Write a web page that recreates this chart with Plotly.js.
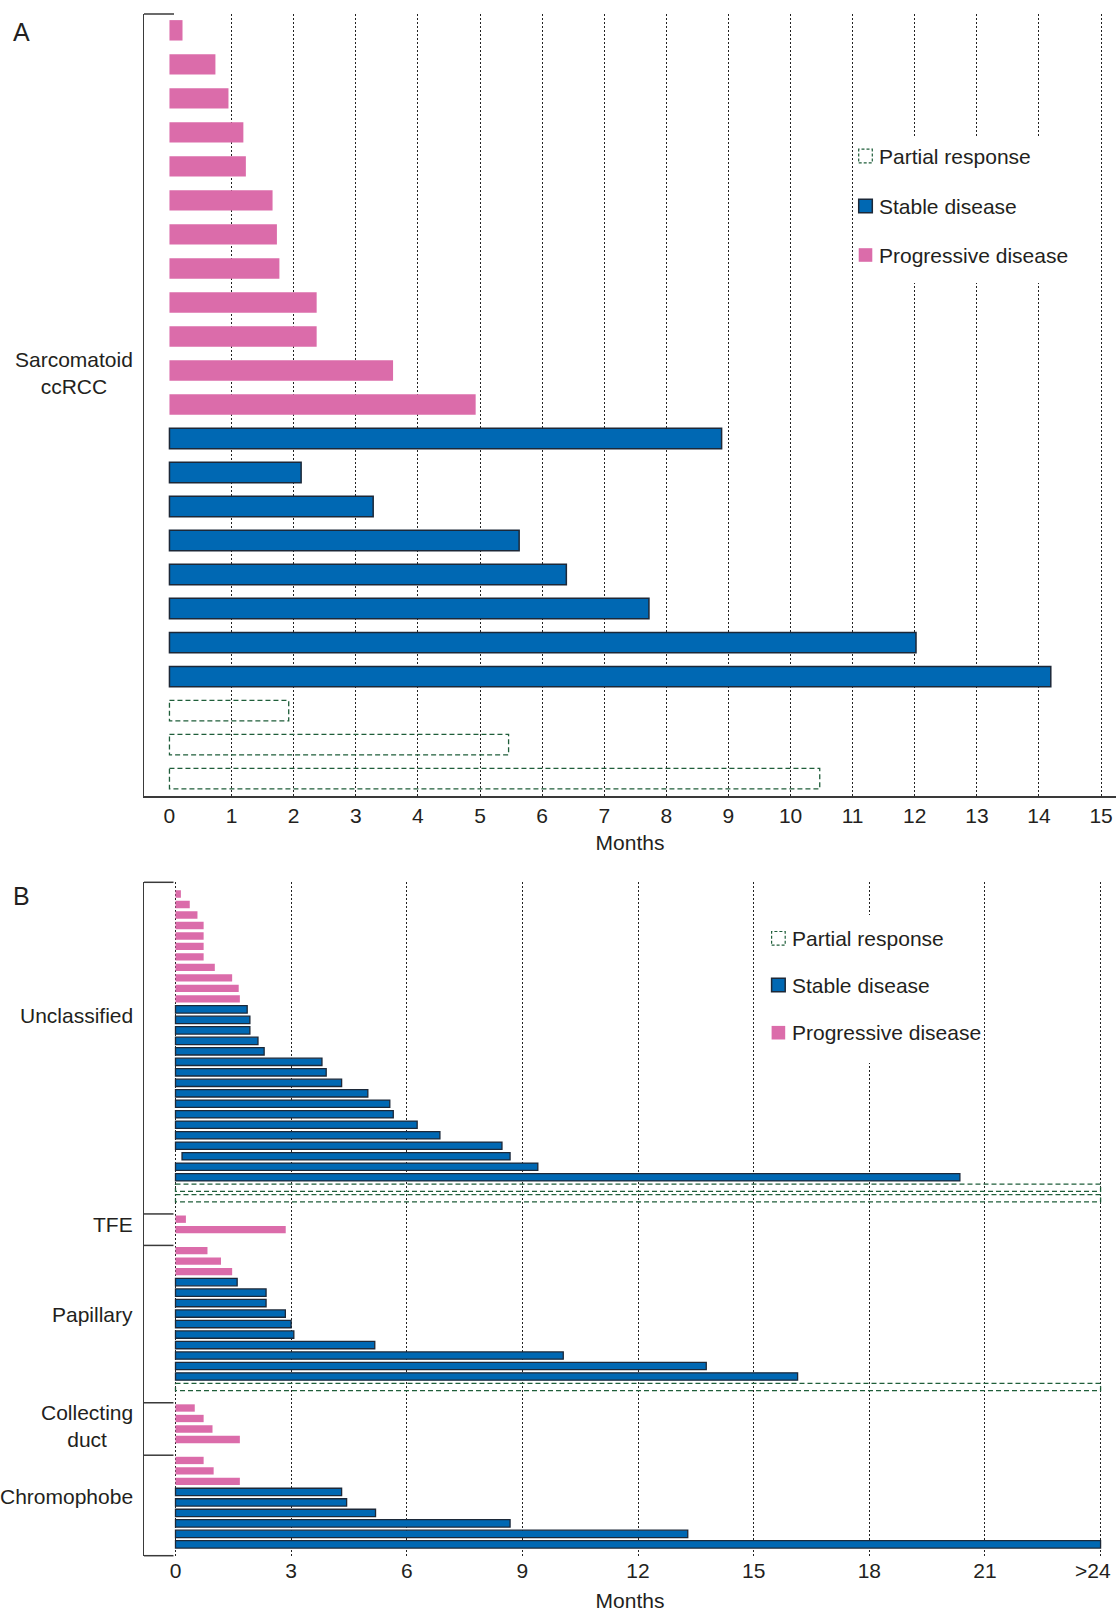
<!DOCTYPE html>
<html>
<head>
<meta charset="utf-8">
<script src="https://cdn.plot.ly/plotly-3.0.1.min.js"></script>
<style>
html,body{margin:0;padding:0;background:#ffffff;}
#chart{width:1116px;height:1612px;}
</style>
</head>
<body>
<div id="chart"></div>
<script>
// ================= DATA (months) =================
// Panel A – Sarcomatoid ccRCC
const sarcProgressive = [0.21, 0.74, 0.95, 1.19, 1.23, 1.66, 1.73, 1.77, 2.37, 2.37, 3.60, 4.93];
const sarcStable      = [8.89, 2.12, 3.28, 5.63, 6.39, 7.72, 12.02, 14.19];
const sarcPartial     = [1.92, 5.46, 10.47];

const ticksA     = [0, 1, 2, 3, 4, 5, 6, 7, 8, 9, 10, 11, 12, 13, 14, 15];
const ticksB     = [0, 3, 6, 9, 12, 15, 18, 21, 24];
const tickTextB  = ["0", "3", "6", "9", "12", "15", "18", "21", ">24"];

// Panel B – non-clear-cell groups
const groupNames = ["Unclassified", "TFE", "Papillary", "Collecting<br>duct", "Chromophobe"];

const unclProgressive = [0.14, 0.37, 0.57, 0.73, 0.73, 0.73, 0.73, 1.02, 1.47, 1.64, 1.67];
const unclStable      = [1.86, 1.93, 1.93, 2.14, 2.30, 3.80, 3.91, 4.31, 4.99, 5.56, 5.65, 6.27, 6.86, 8.47, 8.68, 9.40, 20.35];
const unclStableStart = [0, 0, 0, 0, 0, 0, 0, 0, 0, 0, 0, 0, 0, 0, 0.17, 0, 0];
const unclPartial     = [24, 24];

const tfeProgressive  = [0.27, 2.86];
const tfeStable       = [];
const tfePartial      = [];

const papProgressive  = [0.83, 1.18, 1.47];
const papStable       = [1.60, 2.35, 2.35, 2.85, 3.00, 3.07, 5.17, 10.06, 13.77, 16.14];
const papPartial      = [24];

const cdProgressive   = [0.50, 0.73, 0.96, 1.67];
const cdStable        = [];
const cdPartial       = [];

const chrProgressive  = [0.73, 0.99, 1.67];
const chrStable       = [4.31, 4.44, 5.19, 8.68, 13.29, 24];
const chrPartial      = [];

// ================= STYLE / LAYOUT CONSTANTS =================
const W = 1116, H = 1612;
const PINK = "#db6caa", BLUE = "#0068b3", OUTLINE = "#1c2838", GREEN = "#1f5e3a";
const TXT = "#231f20", AXIS = "#3a3a3a";
const FONT = "Liberation Sans, Arial, Helvetica, sans-serif";
const FS = 21;
const groupLabelSlots = [11.6, 31.55, 40.1, 50.7, 57.4];

const px = v => v / W;
const py = v => 1 - v / H;

// ================= BUILD SLOTS =================
function buildSlots(groups) {
  let slot = 0;
  const out = {prog: {x: [], y: []}, stab: {x: [], y: [], base: []}, part: {x: [], y: []}, spans: []};
  groups.forEach((g, gi) => {
    if (gi > 0) slot += 1; // blank slot between groups
    const first = slot;
    g.prog.forEach(v => { out.prog.x.push(v); out.prog.y.push(slot++); });
    g.stab.forEach((v, i) => {
      const b = g.start ? g.start[i] : 0;
      out.stab.x.push(v - b); out.stab.base.push(b); out.stab.y.push(slot++);
    });
    g.part.forEach(v => { out.part.x.push(v); out.part.y.push(slot++); });
    out.spans.push([first, slot - 1]);
  });
  return out;
}

function rectPath(xs, ys, h) {
  const X = [], Y = [];
  xs.forEach((v, i) => {
    const s = ys[i];
    X.push(0, v, v, 0, 0, null);
    Y.push(s - h, s - h, s + h, s + h, s - h, null);
  });
  return {x: X, y: Y};
}

const A = buildSlots([{prog: sarcProgressive, stab: sarcStable, part: sarcPartial}]);
const B = buildSlots([
  {prog: unclProgressive, stab: unclStable, start: unclStableStart, part: unclPartial},
  {prog: tfeProgressive, stab: tfeStable, part: tfePartial},
  {prog: papProgressive, stab: papStable, part: papPartial},
  {prog: cdProgressive, stab: cdStable, part: cdPartial},
  {prog: chrProgressive, stab: chrStable, part: chrPartial}
]);

const hA = 0.30, hB = 0.35;
const rA = rectPath(A.part.x, A.part.y, hA);
const rB = rectPath(B.part.x, B.part.y, hB);

const traces = [
  {type: "bar", orientation: "h", name: "Progressive disease", x: A.prog.x, y: A.prog.y, width: 2 * hA,
   marker: {color: PINK, line: {width: 0}}, xaxis: "x", yaxis: "y", showlegend: false, hoverinfo: "x"},
  {type: "bar", orientation: "h", name: "Stable disease", x: A.stab.x, y: A.stab.y, base: A.stab.base, width: 2 * hA,
   marker: {color: BLUE, line: {width: 1.5, color: OUTLINE}}, xaxis: "x", yaxis: "y", showlegend: false, hoverinfo: "x"},
  {type: "scatter", mode: "lines", name: "Partial response", x: rA.x, y: rA.y, connectgaps: false,
   line: {color: GREEN, width: 1.3, dash: "5px,3px"}, xaxis: "x", yaxis: "y", showlegend: false, hoverinfo: "skip"},

  {type: "bar", orientation: "h", name: "Progressive disease", x: B.prog.x, y: B.prog.y, width: 2 * hB,
   marker: {color: PINK, line: {width: 0}}, xaxis: "x2", yaxis: "y2", showlegend: false, hoverinfo: "x"},
  {type: "bar", orientation: "h", name: "Stable disease", x: B.stab.x, y: B.stab.y, base: B.stab.base, width: 2 * hB,
   marker: {color: BLUE, line: {width: 1.3, color: OUTLINE}}, xaxis: "x2", yaxis: "y2", showlegend: false, hoverinfo: "x"},
  {type: "scatter", mode: "lines", name: "Partial response", x: rB.x, y: rB.y, connectgaps: false,
   line: {color: GREEN, width: 1.3, dash: "5px,3px"}, xaxis: "x2", yaxis: "y2", showlegend: false, hoverinfo: "skip"}
];

// ================= SHAPES =================
const shapes = [];
// white legend backgrounds (hide gridlines behind legend)
shapes.push({type: "rect", xref: "paper", yref: "paper", x0: px(855), x1: px(1098), y0: py(137), y1: py(283),
             fillcolor: "#ffffff", line: {width: 0}, layer: "above"});
shapes.push({type: "rect", xref: "paper", yref: "paper", x0: px(756), x1: px(983), y0: py(915), y1: py(1063),
             fillcolor: "#ffffff", line: {width: 0}, layer: "above"});

// bracket stubs
const stubA = (174 - 144) / (W - 144);
shapes.push({type: "line", xref: "x domain", yref: "y domain", x0: 0, x1: stubA, y0: 1, y1: 1,
             line: {color: AXIS, width: 1.5}});
const stubB = (173.5 - 144) / (W - 144);
shapes.push({type: "line", xref: "x2 domain", yref: "y2 domain", x0: 0, x1: stubB, y0: 1, y1: 1,
             line: {color: AXIS, width: 1.5}});
shapes.push({type: "line", xref: "x2 domain", yref: "y2 domain", x0: 0, x1: stubB, y0: 0, y1: 0,
             line: {color: AXIS, width: 1.5}});
B.spans.slice(1).forEach(sp => {
  const ys = sp[0] - 0.5;
  shapes.push({type: "line", xref: "x2 domain", yref: "y2", x0: 0, x1: stubB, y0: ys, y1: ys,
               line: {color: AXIS, width: 1.5}});
});

// legends (custom, to reproduce the dashed partial-response key)
const annotations = [];
function legend(xSq, xTxt, rows) {
  const s = 6.8;
  const keys = [
    {label: "Partial response", fill: "#ffffff", line: {color: GREEN, width: 1.2, dash: "3px,2px"}},
    {label: "Stable disease", fill: BLUE, line: {color: OUTLINE, width: 1.5}},
    {label: "Progressive disease", fill: PINK, line: {width: 0}}
  ];
  keys.forEach((k, i) => {
    shapes.push({type: "rect", xref: "paper", yref: "paper", x0: px(xSq - s), x1: px(xSq + s),
                 y0: py(rows[i] + s), y1: py(rows[i] - s), fillcolor: k.fill, line: k.line, layer: "above"});
    annotations.push({xref: "paper", yref: "paper", x: px(xTxt), y: py(rows[i]), xanchor: "left", yanchor: "middle",
                      text: k.label, showarrow: false, font: {size: FS, color: TXT, family: FONT}});
  });
}
legend(865.5, 876.5, [156, 206, 255]);
legend(778.4, 789.5, [938.3, 985, 1032.7]);

// group labels
annotations.push({xref: "paper", yref: "y", x: px(135), y: 10.07, xanchor: "right", yanchor: "middle", align: "center",
                  text: "Sarcomatoid<br>ccRCC", showarrow: false, font: {size: FS, color: TXT, family: FONT}});
groupNames.forEach((g, i) => {
  annotations.push({xref: "paper", yref: "y2", x: px(135), y: groupLabelSlots[i], xanchor: "right", yanchor: "middle",
                    align: "center", text: g, showarrow: false, font: {size: FS, color: TXT, family: FONT}});
});
// panel letters
annotations.push({xref: "paper", yref: "paper", x: px(21.8), y: py(32.5), xanchor: "center", yanchor: "middle",
                  text: "A", showarrow: false, font: {size: 25, color: TXT, family: FONT}});
annotations.push({xref: "paper", yref: "paper", x: px(21.8), y: py(895.7), xanchor: "center", yanchor: "middle",
                  text: "B", showarrow: false, font: {size: 25, color: TXT, family: FONT}});

// last tick label of panel B sits at the page edge: draw it nudged inwards, as in the reference
const lastIdx = ticksB.length - 1;
const tickTextBDrawn = tickTextB.map((t, i) => (i === lastIdx ? "" : t));
annotations.push({xref: "x2", yref: "paper", x: ticksB[lastIdx], xshift: -8, y: py(1570), xanchor: "center",
                  yanchor: "middle", text: tickTextB[lastIdx], showarrow: false,
                  font: {size: FS, color: TXT, family: FONT}});

// ================= LAYOUT =================
const gridCommon = {showgrid: true, gridcolor: "#222222", griddash: "2px,2px", gridwidth: 1};
const layout = {
  width: W, height: H,
  margin: {l: 0, r: 0, t: 0, b: 0, pad: 0},
  paper_bgcolor: "#ffffff", plot_bgcolor: "#ffffff",
  barmode: "overlay",
  showlegend: false,
  font: {family: FONT, color: TXT, size: FS},
  xaxis: Object.assign({}, gridCommon, {
    domain: [px(144), 1], range: [-0.41, 15.24], anchor: "y",
    tickmode: "array", tickvals: ticksA, ticks: "",
    zeroline: true, zerolinecolor: "#ffffff", zerolinewidth: 1,
    showline: true, linecolor: AXIS, linewidth: 1.5,
    ticklabeloverflow: "allow",
    tickfont: {size: FS, color: TXT, family: FONT},
    title: {text: "Months", font: {size: FS, color: TXT, family: FONT}, standoff: 9},
    fixedrange: true
  }),
  yaxis: {
    domain: [py(796), py(14)], range: [22.51, -0.48], anchor: "x",
    showticklabels: false, ticks: "", showgrid: false, zeroline: false,
    showline: true, linecolor: AXIS, linewidth: 1.5, fixedrange: true
  },
  xaxis2: Object.assign({}, gridCommon, {
    domain: [px(144), 1], range: [-0.817, 24.4], anchor: "y2",
    tickmode: "array", tickvals: ticksB, ticktext: tickTextBDrawn, ticks: "",
    zeroline: false, showline: false,
    ticklabeloverflow: "allow",
    tickfont: {size: FS, color: TXT, family: FONT},
    title: {text: "Months", font: {size: FS, color: TXT, family: FONT}, standoff: 13},
    fixedrange: true
  }),
  yaxis2: {
    domain: [py(1555.7), py(882.3)], range: [63.08, -1.115], anchor: "x2",
    showticklabels: false, ticks: "", showgrid: false, zeroline: false,
    showline: true, linecolor: AXIS, linewidth: 1.5, fixedrange: true
  },
  shapes: shapes,
  annotations: annotations
};

Plotly.newPlot("chart", traces, layout, {displayModeBar: false, staticPlot: true});
</script>
</body>
</html>
